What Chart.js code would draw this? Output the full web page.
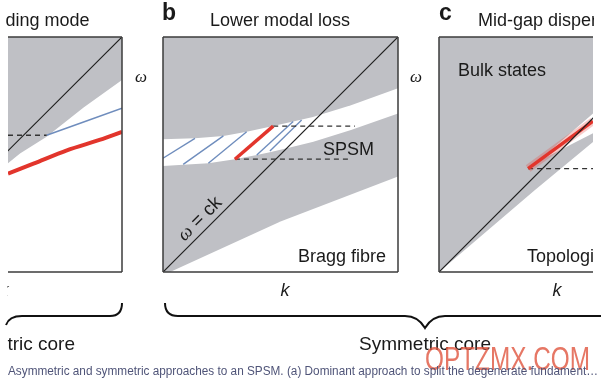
<!DOCTYPE html>
<html><head><meta charset="utf-8">
<script src="https://cdn.jsdelivr.net/npm/chart.js@4.4.1/dist/chart.umd.min.js"></script>
<style>
html,body{margin:0;padding:0;background:#fff;}
#wrap{position:relative;width:610px;height:383px;overflow:hidden;background:#fff;}
canvas{position:absolute;}
svg{position:absolute;left:0;top:0;pointer-events:none;}
</style></head><body>
<div id="wrap">
<canvas id="ca" width="118" height="239" style="left:6px;top:35px"></canvas>
<canvas id="cb" width="239" height="239" style="left:161px;top:35px"></canvas>
<canvas id="cc" width="158" height="239" style="left:437px;top:35px"></canvas>
<svg width="610" height="383" viewBox="0 0 610 383">
<defs>
<clipPath id="clipL"><rect x="7.5" y="0" width="700" height="383"/></clipPath>
<clipPath id="clipR"><rect x="0" y="0" width="594" height="383"/></clipPath>
</defs>
<g font-family="'Liberation Sans', Arial, Helvetica, sans-serif" fill="#1a1a1a">
<text x="5.5" y="26" font-size="18">ding mode</text>
<text x="162" y="20" font-size="23" font-weight="bold">b</text>
<text x="280" y="26" font-size="18" text-anchor="middle">Lower modal loss</text>
<text x="439" y="20" font-size="23" font-weight="bold">c</text>
<text x="478" y="26" font-size="18" clip-path="url(#clipR)">Mid-gap dispersion</text>
<text x="323" y="155" font-size="18">SPSM</text>
<text x="298" y="262" font-size="18">Bragg fibre</text>
<text x="458" y="76" font-size="18">Bulk states</text>
<text x="527" y="262" font-size="18" clip-path="url(#clipR)">Topological</text>
<text x="141" y="82" font-family="'Liberation Serif','DejaVu Serif',serif" font-style="italic" font-size="17" text-anchor="middle">ω</text>
<text x="416" y="82" font-family="'Liberation Serif','DejaVu Serif',serif" font-style="italic" font-size="17" text-anchor="middle">ω</text>
<text x="4" y="296" font-size="18" font-style="italic" text-anchor="middle" clip-path="url(#clipL)">k</text>
<text x="285" y="296" font-size="18" font-style="italic" text-anchor="middle">k</text>
<text x="557" y="296" font-size="18" font-style="italic" text-anchor="middle">k</text>
<text transform="translate(199,218) rotate(-45)" font-size="19" text-anchor="middle" dy="0.35em"><tspan font-family="'Liberation Serif','DejaVu Serif',serif" font-style="italic">ω</tspan> = ck</text>
<text x="75" y="350" font-size="19" text-anchor="end" clip-path="url(#clipL)">Asymmetric core</text>
<text x="425" y="350" font-size="19" text-anchor="middle">Symmetric core</text>
<text x="425" y="370" font-size="34" fill="#e0553f" fill-opacity="0.8" textLength="165" lengthAdjust="spacingAndGlyphs">OPTZMX.COM</text>
<text x="8" y="375" font-size="12.5" fill="#4f5478" textLength="590" lengthAdjust="spacingAndGlyphs">Asymmetric and symmetric approaches to an SPSM. (a) Dominant approach to split the degenerate fundament…</text>
</g>
<g fill="none" stroke="#111" stroke-width="2">
<path d="M 6 325 Q 9 316 22 316 L 110 316 Q 122 316 122 303"/>
<path d="M 165 303 Q 165 316 178 316 L 405 316 Q 418 316 425 328 Q 432 316 445 316 L 601 316"/>
</g>
</svg>
</div>
<script>
// ---------- data (k on x, omega on y, both normalised 0..1) ----------
// light line omega = ck
const lightX = [0, 1];
const lightY = [0, 1];

// panel a: asymmetric core
const aCladX = [0.516, 0.567, 0.68, 0.837, 1.0];
const aCladY = [0.463, 0.504, 0.576, 0.70, 0.817];
const aBlueX = [0.68, 0.837, 1.0];
const aBlueY = [0.582, 0.638, 0.697];
const aRedX = [0.516, 0.624, 0.766, 0.908, 1.0];
const aRedY = [0.419, 0.461, 0.518, 0.563, 0.596];
const aCutX = [0.516, 0.68];
const aCutY = [0.582, 0.582];

// panel b: Bragg fibre
const bGapTopX = [0, 0.136, 0.257, 0.356, 0.469, 0.554, 0.638, 0.8, 1.0];
const bGapTopY = [0.565, 0.569, 0.579, 0.597, 0.621, 0.640, 0.660, 0.710, 0.782];
const bGapBotX = [0, 0.086, 0.193, 0.306, 0.399, 0.455, 0.54, 0.64, 0.8, 1.0];
const bGapBotY = [0.451, 0.456, 0.463, 0.480, 0.498, 0.51, 0.53, 0.554, 0.604, 0.675];
const bBandLowX = [0.03, 0.5, 1.0];
const bBandLowY = [0, 0.215, 0.406];
const bHatchX = [[0, 0.136], [0.086, 0.257], [0.193, 0.356], [0.399, 0.554], [0.455, 0.59]];
const bHatchY = [[0.484, 0.569], [0.458, 0.579], [0.463, 0.597], [0.498, 0.640], [0.515, 0.647]];
const bRedX = [0.306, 0.469];
const bRedY = [0.480, 0.621];
const bDashHiX = [0.469, 0.817];
const bDashHiY = [0.621, 0.621];
const bDashLoX = [0.306, 0.803];
const bDashLoY = [0.480, 0.480];

// panel c: topological fibre
const cBulkX = [0, 0.407, 0.655];
const cBulkY = [0, 0.348, 0.553];
const cWedgeX = [0.42, 0.655];
const cWedgeTopY = [0.47, 0.675];
const cWedgeBotY = [0.47, 0.59];
const cRedX = [0.379, 0.655];
const cRedY = [0.44, 0.642];
const cDashX = [0.379, 0.655];
const cDashY = [0.44, 0.44];

// ---------- helpers ----------
const C = { gray: '#bfc0c5', red: '#e2352c', glow: 'rgba(226,70,60,0.28)', blue: '#6f8dbd', ink: '#1e1e1e', dash: '#333333', frame: '#3d3d3d' };
const pts = (xs, ys) => xs.map((x, i) => ({ x, y: ys[i] }));
function area(data, fill, order, color) {
  return { data, fill, order, backgroundColor: color, borderColor: 'rgba(0,0,0,0)', borderWidth: 0, pointRadius: 0 };
}
function stroke(data, color, width, order, dash, tension) {
  return { data, fill: false, order, borderColor: color, borderWidth: width, borderDash: dash || [], pointRadius: 0, tension: tension || 0, borderCapStyle: 'butt' };
}
const framePlugin = {
  id: 'frame',
  afterDatasetsDraw(chart, args, opts) {
    const { ctx, chartArea: { left, right, top, bottom } } = chart;
    ctx.save();
    ctx.strokeStyle = opts.color; ctx.lineWidth = opts.width; ctx.setLineDash([]);
    ctx.beginPath();
    const s = opts.sides;
    if (s.includes('t')) { ctx.moveTo(left, top); ctx.lineTo(right, top); }
    if (s.includes('r')) { ctx.moveTo(right, top); ctx.lineTo(right, bottom); }
    if (s.includes('b')) { ctx.moveTo(left, bottom); ctx.lineTo(right, bottom); }
    if (s.includes('l')) { ctx.moveTo(left, top); ctx.lineTo(left, bottom); }
    ctx.stroke(); ctx.restore();
  }
};
function makeChart(id, xmin, xmax, datasets, sides) {
  return new Chart(document.getElementById(id), {
    type: 'line',
    data: { datasets },
    options: {
      responsive: false, animation: false, devicePixelRatio: 1,
      layout: { padding: 2 },
      scales: {
        x: { type: 'linear', min: xmin, max: xmax, display: false },
        y: { type: 'linear', min: 0, max: 1, display: false }
      },
      plugins: { legend: { display: false }, tooltip: { enabled: false }, frame: { sides, color: C.frame, width: 1.5 } }
    },
    plugins: [framePlugin]
  });
}

// ---------- panel a ----------
makeChart('ca', 0.516, 1.0, [
  area(pts(aCladX, aCladY), 'end', 100, C.gray),
  stroke(pts(lightX, lightY), C.ink, 1.2, 8),
  stroke(pts(aCutX, aCutY), C.dash, 1.3, 6, [5, 4]),
  stroke(pts(aBlueX, aBlueY), C.blue, 1.5, 7),
  stroke(pts(aRedX, aRedY), C.red, 4, 5, null, 0.3)
], 'trb');

// ---------- panel b ----------
// drawing order: higher "order" drawn first
const bSets = [
  area(pts(bGapTopX, bGapTopY), 'end', 100, C.gray),      // upper cladding band
  area(pts(bGapBotX, bGapBotY), 'start', 99, C.gray),     // lower cladding band ...
  area(pts(bBandLowX, bBandLowY), 'start', 98, '#ffffff'),// ... cut by the region below it
  stroke(pts(lightX, lightY), C.ink, 1.2, 8),
  stroke(pts(bDashHiX, bDashHiY), C.dash, 1.3, 6, [5, 4]),
  stroke(pts(bDashLoX, bDashLoY), C.dash, 1.3, 6, [5, 4]),
  stroke(pts(bRedX, bRedY), C.red, 3.5, 5)
];
bHatchX.forEach((xs, i) => bSets.push(stroke(pts(xs, bHatchY[i]), C.blue, 1.4, 9)));
makeChart('cb', 0, 1, bSets, 'trbl');

// ---------- panel c ----------
makeChart('cc', 0, 0.655, [
  area(pts(cBulkX, cBulkY), 'end', 100, C.gray),
  area(pts(cWedgeX, cWedgeTopY), '+1', 99, '#ffffff'),
  area(pts(cWedgeX, cWedgeBotY), false, 98, '#ffffff'),
  stroke(pts(cDashX, cDashY), C.dash, 1.3, 7, [5, 4]),
  stroke(pts(cRedX, cRedY), C.glow, 8, 6),
  stroke(pts(cRedX, cRedY), C.red, 3.5, 5),
  stroke(pts(lightX, lightY), C.ink, 1.2, 4)
], 'tbl');
</script>
</body></html>
